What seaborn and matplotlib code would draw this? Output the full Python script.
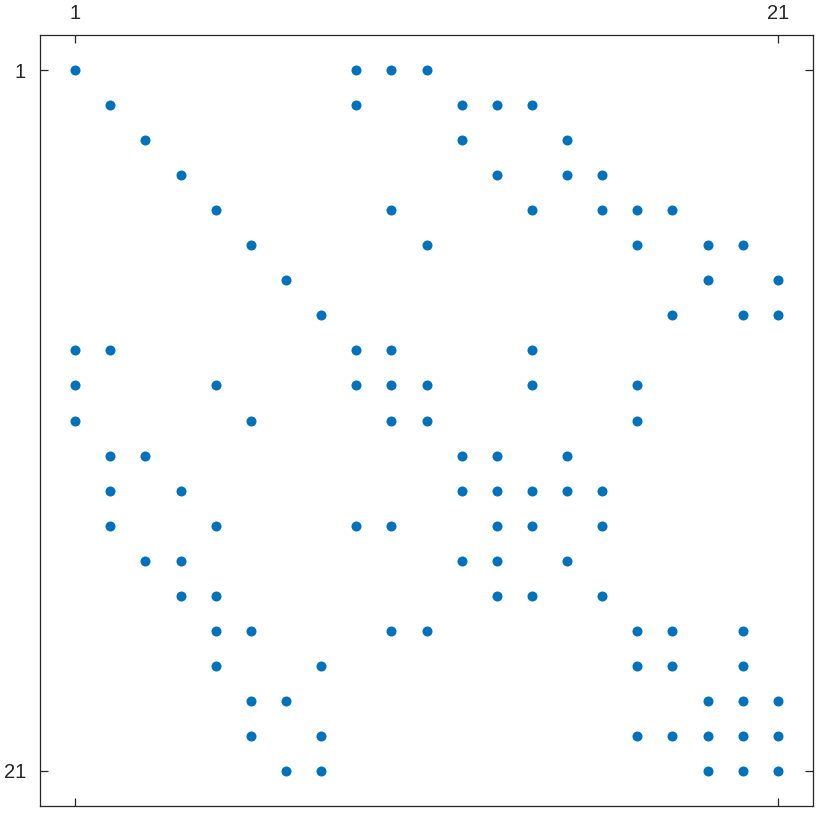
import pandas as pd
import seaborn as sns
import matplotlib
matplotlib.use("Agg")
import matplotlib.pyplot as plt

# nonzero column indices per row (1-based)
row_cols = {
    1: [1, 9, 10, 11],
    2: [2, 9, 12, 13, 14],
    3: [3, 12, 15],
    4: [4, 13, 15, 16],
    5: [5, 10, 14, 16, 17, 18],
    6: [6, 11, 17, 19, 20],
    7: [7, 19, 21],
    8: [8, 18, 20, 21],
    9: [1, 2, 9, 10, 14],
    10: [1, 5, 9, 10, 11, 14, 17],
    11: [1, 6, 10, 11, 17],
    12: [2, 3, 12, 13, 15],
    13: [2, 4, 12, 13, 14, 15, 16],
    14: [2, 5, 9, 10, 13, 14, 16],
    15: [3, 4, 12, 13, 15],
    16: [4, 5, 13, 14, 16],
    17: [5, 6, 10, 11, 17, 18, 20],
    18: [5, 8, 17, 18, 20],
    19: [6, 7, 19, 20, 21],
    20: [6, 8, 17, 18, 19, 20, 21],
    21: [7, 8, 19, 20, 21],
}
N = 21
tick_labels = ["1", "21"]

rows = [r for r, cs in row_cols.items() for c in cs]
cols = [c for r, cs in row_cols.items() for c in cs]
df = pd.DataFrame({"row": rows, "col": cols})

sns.set_style("white")
plt.rcParams['font.family'] = ['Liberation Sans', 'DejaVu Sans']

fig = plt.figure(figsize=(8.23, 8.21), dpi=100)
ax = fig.add_axes([40 / 823, 15 / 821, 773 / 823, 771 / 821])

sns.scatterplot(data=df, x="col", y="row", ax=ax, color="#0072BD",
                s=52, linewidth=0, legend=False)

ax.set_xlim(0, N + 1)
ax.set_ylim(N + 1, 0)
ax.set_xticks([1, N])
ax.set_yticks([1, N])
ax.set_xticklabels(tick_labels)
ax.set_yticklabels(tick_labels)
ax.xaxis.tick_top()
ax.tick_params(axis="both", which="both", direction="in", length=6, width=0.9,
               color="#262626", labelsize=14.5, labelcolor="#262626",
               top=True, bottom=True, left=True, right=True,
               labeltop=True, labelbottom=False, labelleft=True, labelright=False)
ax.tick_params(axis="x", pad=8.5)
ax.tick_params(axis="y", pad=10)
ax.set_xlabel("")
ax.set_ylabel("")
for sp in ax.spines.values():
    sp.set_color("#262626")
    sp.set_linewidth(0.9)

fig.savefig("out.png", dpi=100)
